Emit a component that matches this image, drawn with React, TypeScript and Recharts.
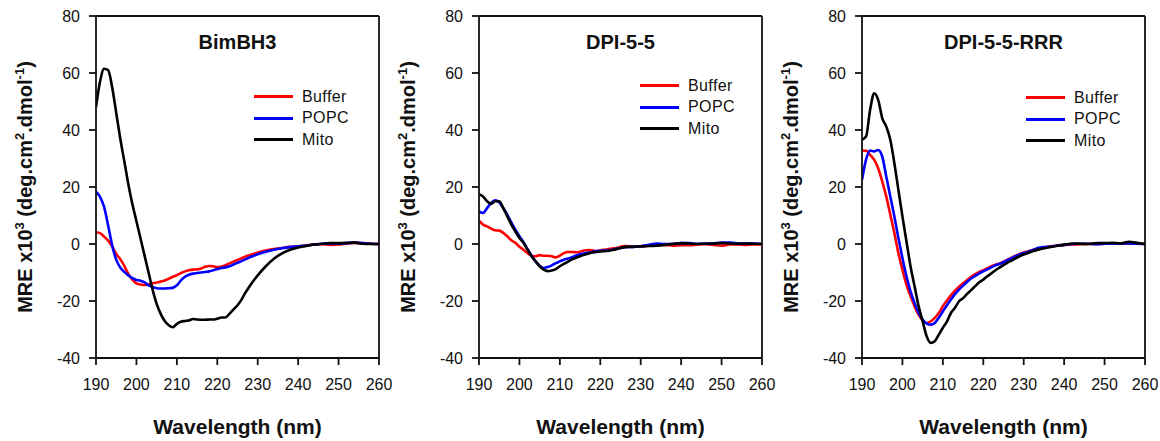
import { LineChart, Line, XAxis, YAxis, Legend, ReferenceLine } from 'recharts';

const wavelengths = [
  190, 191, 192, 193, 194, 195, 196, 197, 198, 199, 200, 201, 202, 203, 204, 205, 206, 207, 208, 209,
  210, 211, 212, 213, 214, 215, 216, 217, 218, 219, 220, 221, 222, 223, 224, 225, 226, 227, 228, 229,
  230, 232, 234, 236, 238, 240, 242, 244, 246, 248, 250, 252, 254, 256, 258, 260,
];

// BimBH3
const bimBuffer = [
  4.1, 3.8, 2.6, 1.2, -0.8, -3.5, -5.3, -7.7, -10.5, -12.5, -13.8, -14.2, -14.4, -14.2, -13.8, -13.5, -13.2, -12.8, -12.2, -11.5,
  -10.9, -10.2, -9.6, -9.2, -9.0, -8.9, -8.6, -8.0, -7.7, -7.8, -8.1, -7.9, -7.4, -6.8, -6.2, -5.6, -5.0, -4.4, -3.9, -3.4,
  -3.0, -2.3, -1.8, -1.4, -1.0, -0.8, -0.5, -0.2, -0.1, -0.3, -0.2, 0.2, 0.4, 0.2, 0.1, 0,
];
const bimPopc = [
  18.4, 16.5, 13, 6.5, -0.5, -5.5, -8.3, -9.8, -11, -12, -12.6, -12.9, -13.5, -14.5, -15.1, -15.5, -15.6, -15.6, -15.5, -15.4,
  -14.5, -12.8, -11.5, -10.8, -10.4, -10.2, -10.0, -9.8, -9.6, -9.2, -8.8, -8.4, -8.2, -7.8, -7.2, -6.6, -6.0, -5.3, -4.7, -4.1,
  -3.6, -2.7, -2.0, -1.5, -1.1, -0.8, -0.5, -0.2, 0.1, 0.2, 0.2, 0.3, 0.5, 0.3, 0.1, 0,
];
const bimMito = [
  48, 57, 61.5, 61, 55, 46, 37, 29, 21, 14, 8, 2, -4, -10, -16, -21, -24.5, -27, -28.5, -29.2,
  -28, -27.3, -27, -26.8, -26.3, -26.5, -26.6, -26.6, -26.5, -26.5, -26.2, -25.8, -25.8, -24.5, -23, -21.5, -19.5, -17, -14.8, -12.8,
  -11, -7.8, -5.2, -3.3, -2, -1.2, -0.7, -0.2, 0.1, 0.3, 0.3, 0.4, 0.5, 0.1, 0, 0,
];

// DPI-5-5
const dpiBuffer = [
  8.2, 6.8, 6.2, 5.4, 4.8, 4.7, 3.9, 2.7, 1.3, 0.4, -1, -2, -3.2, -4.1, -4.3, -3.9, -4.1, -4.1, -4.3, -4.7,
  -4.1, -3.2, -2.8, -2.8, -2.9, -2.7, -2.3, -2.1, -2.2, -2.5, -2.2, -2.0, -1.8, -1.6, -1.4, -1.0, -0.7, -0.8, -0.9, -0.9,
  -0.8, -0.6, -0.5, -0.3, -0.6, -0.4, -0.4, -0.2, -0.1, -0.3, -0.6, -0.2, -0.2, -0.3, -0.2, -0.2,
];
const dpiPopc = [
  11.4, 10.9, 12.6, 14.4, 15.3, 14.6, 12.6, 10.3, 7.6, 5, 2.7, 0.6, -1.8, -4.1, -6.1, -7.6, -8.4, -8.1, -7.5, -6.7,
  -6.1, -5.5, -5.1, -4.6, -4.0, -3.6, -3.3, -3.0, -2.8, -2.5, -2.4, -2.3, -2.2, -2.0, -1.7, -1.4, -1.1, -1.0, -1.0, -0.9,
  -0.8, -0.3, 0.2, 0, 0.1, 0.3, 0.3, 0.1, 0.1, 0.2, 0.5, 0.5, 0.2, 0.1, 0.2, 0,
];
const dpiMito = [
  17.5, 16.7, 15, 14.1, 15, 15, 12.6, 9.7, 6.8, 4.4, 2.1, 0.4, -2, -4.3, -6.1, -7.8, -9, -9.5, -9.3, -8.8,
  -7.8, -7, -6.2, -5.4, -4.8, -4.3, -3.8, -3.4, -3, -2.8, -2.6, -2.5, -2.4, -2.1, -1.8, -1.4, -1.1, -1.0, -1.0, -0.9,
  -0.9, -0.7, -0.6, -0.3, 0, 0.3, 0.2, 0, 0.2, 0.2, 0.3, 0.2, 0.1, 0.2, 0.1, 0,
];

// DPI-5-5-RRR
const rrrBuffer = [
  32.8, 32.7, 31.3, 29.6, 26.6, 22, 16.7, 10.3, 3.9, -3.2, -9, -14.3, -18.3, -21.8, -24.8, -26.8, -27.7, -27.1, -25.9, -24.2,
  -21.8, -19.8, -18, -16.4, -15, -13.8, -12.6, -11.5, -10.6, -9.8, -9.2, -8.5, -7.8, -7.3, -6.8, -6.2, -5.5, -4.8, -4.1, -3.5,
  -3.0, -2.2, -1.6, -1.0, -0.6, -0.3, -0.2, -0.1, 0, 0, 0.1, 0.2, 0.1, 0.1, 0.1, 0,
];
const rrrPopc = [
  22.5, 29.6, 32.8, 32.5, 33, 30.7, 23.7, 16.7, 9.7, 2.1, -4.9, -11.3, -16.6, -20.7, -24.2, -26.5, -27.9, -28.3, -27.7, -25.9,
  -23.6, -21.5, -19.5, -17.6, -16, -14.6, -13.3, -12.1, -11.2, -10.3, -9.6, -8.9, -8.2, -7.5, -7, -6.4, -5.7, -5.0, -4.3, -3.7,
  -3.2, -2.3, -1.2, -1.0, -0.6, -0.3, 0, 0.1, 0.1, -0.1, 0.1, 0.1, 0.1, 0.2, 0.1, 0,
];
const rrrMito = [
  36.6, 37.7, 47, 52.9, 50.6, 44.2, 41.2, 36.6, 28.4, 19, 9.7, 0.9, -7.8, -14.8, -21.8, -27.1, -32.4, -34.7, -34.1, -31.8,
  -29.4, -27.2, -24.2, -22.4, -20.1, -19, -17.5, -16.2, -14.8, -13.4, -12.5, -11.3, -10.3, -9.2, -8.3, -7.4, -6.5, -5.8, -5, -4.3,
  -3.7, -2.6, -1.8, -1.2, -0.7, -0.3, 0.2, 0.1, 0, 0.3, 0.3, 0.4, 0.2, 0.8, 0.4, 0,
];

const xTicks = [190, 200, 210, 220, 230, 240, 250, 260];
const yTicks = [-40, -20, 0, 20, 40, 60, 80];
const seriesNames = ['Buffer', 'POPC', 'Mito'];
const seriesColors = ['#ff0000', '#0000ff', '#000000'];

const FONT = '"Liberation Sans", Arial, sans-serif';

function buildRows(buffer: number[], popc: number[], mito: number[]) {
  return wavelengths.map((w, i) => ({ w, Buffer: buffer[i], POPC: popc[i], Mito: mito[i] }));
}

const panels = [
  { title: 'BimBH3', rows: buildRows(bimBuffer, bimPopc, bimMito), legend: { left: 254, top: 86 } },
  { title: 'DPI-5-5', rows: buildRows(dpiBuffer, dpiPopc, dpiMito), legend: { left: 257, top: 75 } },
  { title: 'DPI-5-5-RRR', rows: buildRows(rrrBuffer, rrrPopc, rrrMito), legend: { left: 260, top: 87 } },
];

const YLabel = (props: any) => {
  const vb = props.viewBox || {};
  const cy = vb.y + vb.height / 2;
  return (
    <text
      transform={`translate(25,${cy}) rotate(-90)`}
      x={0}
      y={7}
      textAnchor="middle"
      fontFamily={FONT}
      fontWeight="bold"
      fontSize={20}
      fill="#111"
    >
      MRE x10<tspan dy={-8} fontSize={13}>3</tspan>
      <tspan dy={8}> (deg.cm</tspan>
      <tspan dy={-8} fontSize={13}>2</tspan>
      <tspan dy={8}>.dmol</tspan>
      <tspan dy={-8} fontSize={13}>-1</tspan>
      <tspan dy={8}>)</tspan>
    </text>
  );
};

const XLabel = (props: any) => {
  const vb = props.viewBox || {};
  return (
    <text x={vb.x + vb.width / 2} y={434} textAnchor="middle" fontFamily={FONT} fontWeight="bold" fontSize={21} fill="#111">
      Wavelength (nm)
    </text>
  );
};

const makeTitle = (title: string) => (props: any) => {
  const vb = props.viewBox || {};
  return (
    <text x={vb.x + vb.width / 2} y={49} textAnchor="middle" fontFamily={FONT} fontWeight="bold" fontSize={20} fill="#111">
      {title}
    </text>
  );
};

const LegendBox = (props: any) => {
  const payload = [...(props.payload || [])].sort(
    (a: any, b: any) => seriesNames.indexOf(a.value) - seriesNames.indexOf(b.value),
  );
  return (
    <div style={{ fontFamily: FONT, fontSize: 16, letterSpacing: 0.4, color: '#111' }}>
      {payload.map((p: any) => (
        <div key={p.value} style={{ display: 'flex', alignItems: 'center', height: 21.5 }}>
          <div style={{ width: 39, height: 2.6, background: p.color, marginRight: 9 }} />
          <span>{p.value}</span>
        </div>
      ))}
    </div>
  );
};

const tickStyle = { fontFamily: FONT, fontSize: 16, fill: '#111' };

const PANEL_STEP = 383;
const CHART_W = 405;

function Panel({ title, rows, legend }: { title: string; rows: any[]; legend: { left: number; top: number } }) {
  return (
    <LineChart width={CHART_W} height={441} data={rows} margin={{ top: 16, right: CHART_W - 379, bottom: 43, left: 36 }}>
      <XAxis
        dataKey="w"
        type="number"
        domain={[190, 260]}
        ticks={xTicks}
        interval={0}
        allowDataOverflow
        height={40}
        tickSize={7}
        tickMargin={14}
        tick={tickStyle}
        stroke="#111"
        strokeWidth={1.8}
        label={<XLabel />}
      />
      <YAxis
        type="number"
        domain={[-40, 80]}
        ticks={yTicks}
        interval={0}
        allowDataOverflow
        width={60}
        tickSize={7}
        tickMargin={9}
        tick={tickStyle}
        stroke="#111"
        strokeWidth={1.8}
        label={<YLabel />}
      />
      <ReferenceLine y={80} stroke="#111" strokeWidth={1.8} label={makeTitle(title)} />
      <ReferenceLine x={260} stroke="#111" strokeWidth={1.8} />
      <Legend
        layout="horizontal"
        verticalAlign="middle"
        align="center"
        wrapperStyle={{ left: legend.left, top: legend.top, width: 'auto' }}
        content={<LegendBox />}
      />
      {seriesNames.map((name, i) => (
        <Line
          key={name}
          dataKey={name}
          name={name}
          type="monotone"
          stroke={seriesColors[i]}
          strokeWidth={2.6}
          dot={false}
          activeDot={false}
          isAnimationActive={false}
        />
      ))}
    </LineChart>
  );
}

export default function App() {
  return (
    <div style={{ position: 'absolute', left: 0, top: 0, width: 1160, height: 441, background: '#fff', overflow: 'hidden' }}>
      {panels.map((p, i) => (
        <div key={p.title} style={{ position: 'absolute', left: i * PANEL_STEP, top: 0 }}>
          <Panel title={p.title} rows={p.rows} legend={p.legend} />
        </div>
      ))}
    </div>
  );
}
